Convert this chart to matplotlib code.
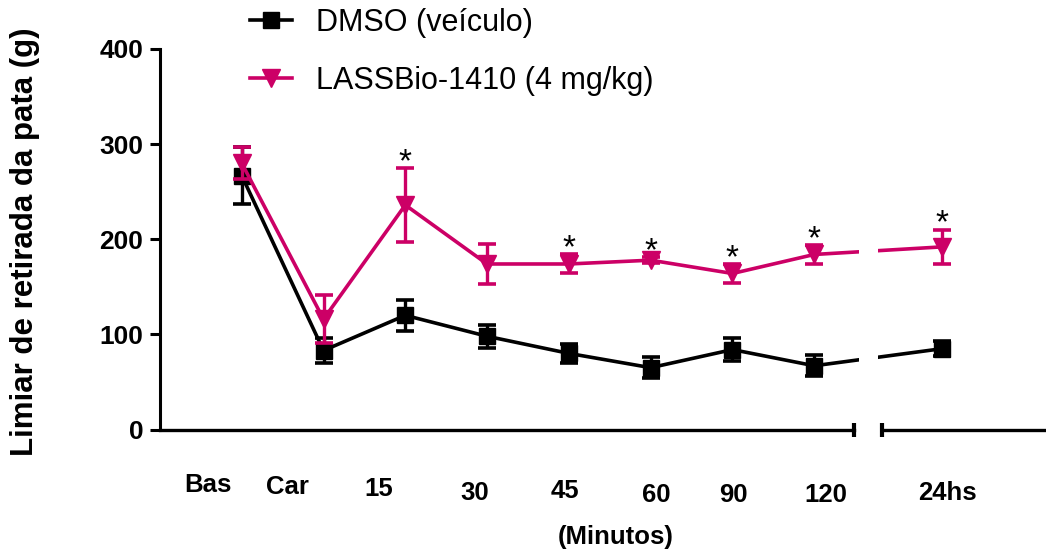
import numpy as np
import matplotlib
matplotlib.use('Agg')
import matplotlib.pyplot as plt

plt.rcParams['font.family'] = ['Liberation Sans', 'DejaVu Sans']

categories = ['Bas', 'Car', '15', '30', '45', '60', '90', '120', '24hs']
dmso_mean = [267, 83, 120, 98, 80, 65, 84, 67, 85]
dmso_err = [30, 13, 16, 12, 10, 11, 12, 11, 8]
lass_mean = [280, 116, 236, 174, 174, 178, 164, 184, 192]
lass_err = [17, 25, 39, 21, 10, 3, 10, 10, 18]
signif = [False, False, True, False, True, True, True, True, True]

# positions on the broken axis (24hs sits after the break)
xpos = [0, 1, 2, 3, 4, 5, 6, 7, 8.565]
# where Prism put the category texts (x in data units, y offset in px)
lab_x = [-0.41, 0.56, 1.67, 2.85, 3.95, 5.07, 6.01, 7.14, 8.63]
lab_dy = [56, 58, 59, 63, 62, 65, 65, 66, 64]

magenta = '#cc0066'

fig = plt.figure(figsize=[10.46, 5.52], dpi=100)
ax = fig.add_axes([160/1046, (552-429.5)/552, 886/1046, 380.5/552])

e1 = ax.errorbar(xpos, dmso_mean, yerr=dmso_err, color='black', marker='s', ms=12,
                 lw=2.6, elinewidth=2.4, capsize=6.5, capthick=2.6, zorder=3)
e2 = ax.errorbar(xpos, lass_mean, yerr=lass_err, color=magenta, marker='v', ms=13,
                 lw=2.6, elinewidth=2.4, capsize=6.5, capthick=2.6, zorder=4)

# gap in lines at the axis break
ax.axvspan(7.546, 7.779, ymin=0.03, ymax=1, color='white', zorder=5, lw=0)

for x, m, e, s in zip(xpos, lass_mean, lass_err, signif):
    if s:
        ax.annotate('*', xy=(x, m + e), xytext=(0, -10), textcoords='offset pixels',
                    ha='center', va='bottom', fontsize=24, zorder=6)

ax.set_xlim(-0.999, 9.833)
ax.set_ylim(0, 400)
ax.set_yticks([0, 100, 200, 300, 400])
ax.tick_params(axis='y', length=7, width=2.2, pad=5, labelsize=19)
for t in ax.get_yticklabels():
    t.set_fontweight('bold')
ax.set_xticks([])
for sp in ['top', 'right', 'bottom']:
    ax.spines[sp].set_visible(False)
ax.spines['left'].set_linewidth(2.2)

# broken x axis
brk1 = (854-160)/886
brk2 = (882-160)/886
ax.plot([0, brk1], [0, 0], color='black', lw=2.4, transform=ax.transAxes, clip_on=False)
ax.plot([brk2, 1], [0, 0], color='black', lw=2.4, transform=ax.transAxes, clip_on=False)
ax.plot([brk1, brk2], [0, 0], ls='none', marker='|', ms=9.5, mew=3, color='black',
        transform=ax.transAxes, clip_on=False)

for c, x, dy in zip(categories, lab_x, lab_dy):
    ax.annotate(c, xy=(x, 0), xycoords=('data', 'axes fraction'), xytext=(0, -dy),
                textcoords='offset pixels', ha='center', va='center',
                fontsize=18.5, fontweight='bold', annotation_clip=False)

fig.text(616/1046, 1 - 537/552, '(Minutos)', ha='center', va='center',
         fontsize=18.5, fontweight='bold')
fig.text(25/1046, 1 - 242/552, 'Limiar de retirada da pata (g)', rotation=90,
         ha='center', va='center', fontsize=22.5, fontweight='bold')

ax.legend(handles=[e1[0], e2[0]], labels=['DMSO (veículo)', 'LASSBio-1410 (4 mg/kg)'],
          loc='upper left', bbox_to_anchor=(250/1046, 0.9855), bbox_transform=fig.transFigure,
          frameon=False, fontsize=22, borderpad=0, borderaxespad=0,
          handlelength=1.37, handletextpad=0.78, labelspacing=0.92)

plt.savefig('out.png', dpi=100)
